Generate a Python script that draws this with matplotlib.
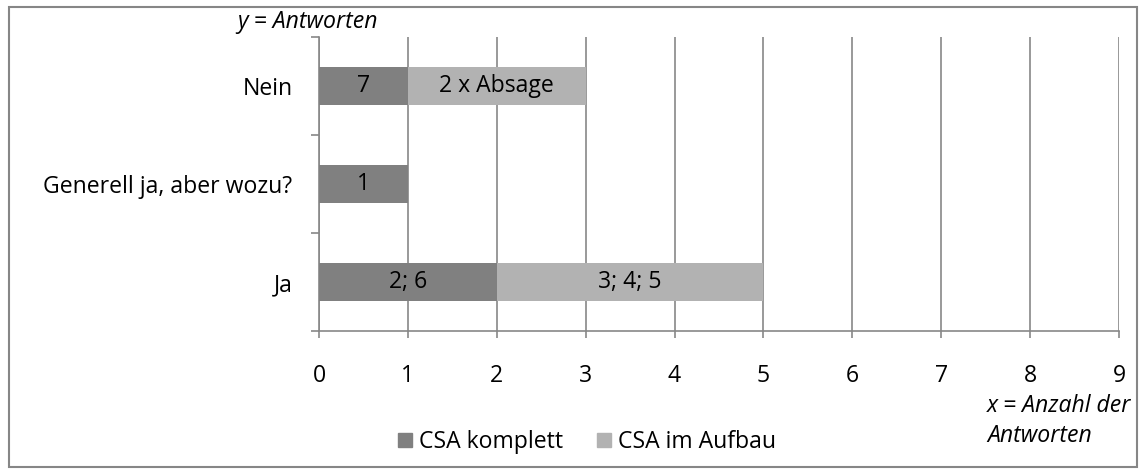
import matplotlib
matplotlib.use("Agg")
import matplotlib.pyplot as plt
from matplotlib.patches import Rectangle, Patch

categories = ["Ja", "Generell ja, aber wozu?", "Nein"]
csa_komplett = [2, 1, 1]
csa_aufbau = [3, 0, 2]
labels_komplett = ["2; 6", "1", "7"]
labels_aufbau = ["3; 4; 5", "", "2 x Absage"]
series_names = ["CSA komplett", "CSA im Aufbau"]
x_ticks = list(range(0, 10))

plt.rcParams['font.family'] = ['Open Sans', 'DejaVu Sans']
FS = 16.6
dark = "#808080"
light = "#b2b2b2"
grid = "#878787"

fig = plt.figure(figsize=(11.46, 4.75), dpi=100)
ax = fig.add_axes([319/1146, 1-331/475, 800/1146, 294/475])

ypos = list(range(len(categories)))
b1 = ax.barh(ypos, csa_komplett, height=0.39, color=dark, zorder=3)
b2 = ax.barh(ypos, csa_aufbau, left=csa_komplett, height=0.39, color=light, zorder=3)
ax.bar_label(b1, labels=labels_komplett, label_type='center', fontsize=FS, color='black')
ax.bar_label(b2, labels=labels_aufbau, label_type='center', fontsize=FS, color='black')

ax.set_xlim(0, 9)
ax.set_ylim(-0.5, 2.5)
ax.set_xticks(x_ticks)
ax.set_xticklabels([str(t) for t in x_ticks], fontsize=FS)
ax.set_yticks(ypos)
ax.set_yticklabels(categories, fontsize=FS)
ax.tick_params(axis='y', length=0, pad=19)
ax.set_yticks([-0.5, 0.5, 1.5, 2.5], minor=True)
ax.tick_params(axis='y', which='minor', length=6, color=grid, width=1.2, direction='out')
ax.tick_params(axis='x', length=5, color=grid, width=1.2, pad=18.5, direction='out')
ax.xaxis.grid(True, color=grid, linewidth=1.2, zorder=0)
ax.set_axisbelow(True)
for s in ['top', 'right']:
    ax.spines[s].set_visible(False)
for s in ['left', 'bottom']:
    ax.spines[s].set_color(grid)
    ax.spines[s].set_linewidth(1.2)

fig.text(307/1146, 1-22/475, "y = Antworten", style='italic', fontsize=FS,
         ha='center', va='center')
fig.text(987/1146, 1-421/475, "x = Anzahl der\nAntworten", style='italic', fontsize=FS,
         ha='left', va='center', linespacing=1.38)

handles = [Patch(color=dark, label=series_names[0]), Patch(color=light, label=series_names[1])]
fig.legend(handles=handles, loc='center', bbox_to_anchor=(587/1146, 1-442/475), ncol=2,
           frameon=False, fontsize=FS, handlelength=0.6, handleheight=0.6,
           handletextpad=0.3, columnspacing=1.45)

fig.patches.append(Rectangle((9/1146, 8/475), 1128/1146, 460/475, transform=fig.transFigure,
                             fill=False, edgecolor="#868686", linewidth=1.5))

fig.savefig("out.png", dpi=100)
